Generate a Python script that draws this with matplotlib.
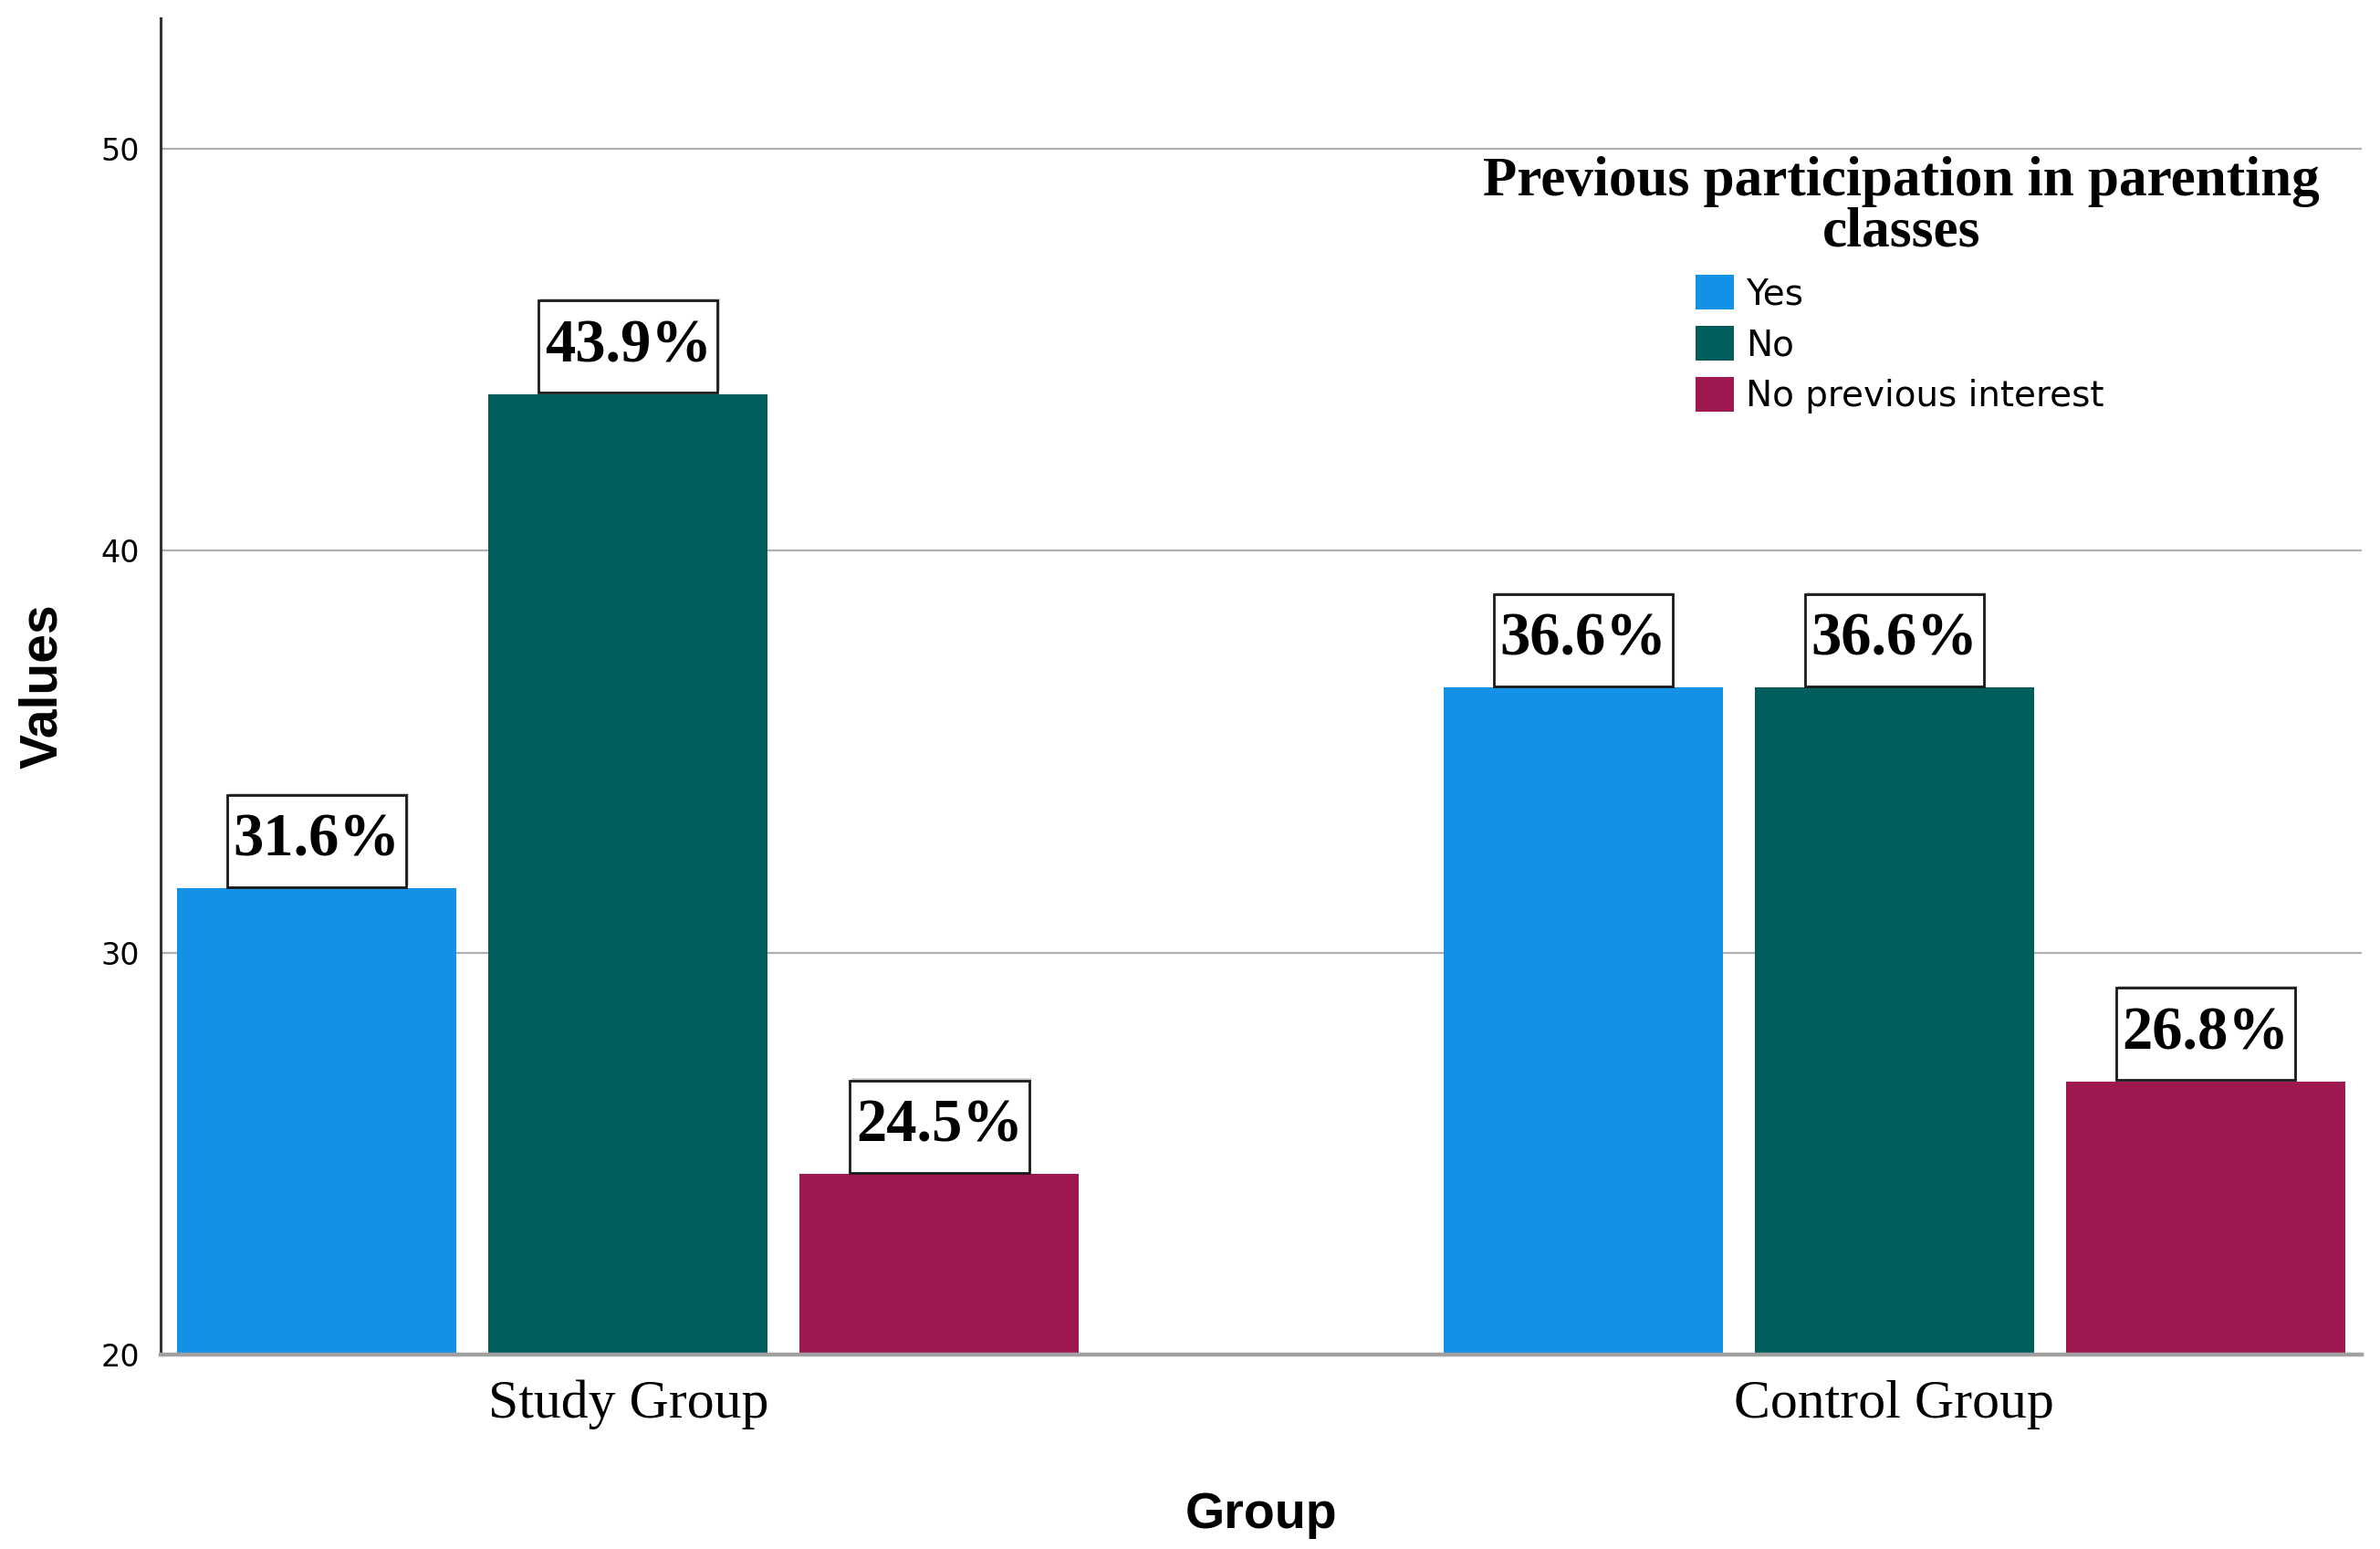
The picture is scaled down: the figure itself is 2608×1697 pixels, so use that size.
import matplotlib
matplotlib.use("Agg")
import matplotlib.pyplot as plt
import matplotlib.patheffects as pe
from matplotlib.patches import Patch
from matplotlib.path import Path
import numpy as np

groups = ["Study Group", "Control Group"]
series = ["Yes", "No", "No previous interest"]
values = {
    "Yes": [31.6, 36.6],
    "No": [43.9, 36.6],
    "No previous interest": [24.5, 26.8],
}
colors = ["#1391E6", "#025E5C", "#9E1951"]
yticks = [20, 30, 40, 50]
legend_title = "Previous participation in parenting\nclasses"

PADX, PADY = 0.10, 0.30


def label_box(x0, y0, width, height, mutation_size):
    px = PADX * mutation_size
    py = PADY * mutation_size
    x0, y0 = x0 - px, y0 - py
    x1, y1 = x0 + width + 2 * px, y0 + height + 2 * py
    return Path([(x0, y0), (x1, y0), (x1, y1), (x0, y1), (x0, y0)],
                [Path.MOVETO, Path.LINETO, Path.LINETO, Path.LINETO, Path.CLOSEPOLY])


fig = plt.figure(figsize=(26.08, 16.97), dpi=100)
ax = fig.add_axes([0.0676, 0.1255, 0.9247, 0.8627])

x = np.arange(len(groups))
step = 0.2458
width = 0.2206
fs = 48
for i, s in enumerate(series):
    pos = x + (i - 1) * step
    ax.bar(pos, [v - 20 for v in values[s]], bottom=20, width=width,
           color=colors[i], edgecolor="none", zorder=3, label=s)
    for px, v in zip(pos, values[s]):
        t = ax.annotate(f"{v:.1f}%", xy=(px, v), xytext=(0, PADY * fs + 1.0),
                        textcoords="offset points", ha="center", va="bottom",
                        fontsize=fs, fontweight="bold", family="Liberation Serif",
                        color="black", zorder=5,
                        bbox=dict(boxstyle=label_box, facecolor="white",
                                  edgecolor="#1a1a1a", linewidth=2.0))
        t.get_bbox_patch().set_path_effects(
            [pe.SimplePatchShadow(offset=(1.5, 1.5), shadow_rgbFace="#d0d0d0", alpha=1), pe.Normal()])

ax.set_xlim(-0.369, 1.369)
ax.set_ylim(20, 53.25)
ax.set_yticks(yticks)
ax.set_yticklabels([str(t) for t in yticks], family="DejaVu Sans", fontsize=24)
ax.set_xticks(x)
ax.set_xticklabels(groups, family="Liberation Serif", fontsize=43)
ax.tick_params(axis="y", length=0, pad=17)
ax.tick_params(axis="x", length=0, pad=20)

ax.yaxis.grid(True, color="#b0b0b0", linewidth=1.6, zorder=1)
ax.set_axisbelow(True)
for sp in ["top", "right"]:
    ax.spines[sp].set_visible(False)
ax.spines["left"].set_color("#333333")
ax.spines["left"].set_linewidth(2.2)
ax.spines["bottom"].set_color("#a0a0a0")
ax.spines["bottom"].set_linewidth(3.2)
ax.spines["bottom"].set_zorder(4)

ax.set_ylabel("Values", family="Liberation Sans", fontweight="bold", fontsize=41, labelpad=26)
ax.set_xlabel("Group", family="Liberation Sans", fontweight="bold", fontsize=40, labelpad=49)

fig.text(0.799, 0.8665, legend_title, ha="center", va="center", multialignment="center",
         family="Liberation Serif", fontweight="bold", fontsize=44, linespacing=0.98)

handles = [Patch(facecolor=c, edgecolor="none") for c in colors]
ax.legend(handles, series, loc="upper left", bbox_to_anchor=(0.7124, 0.8225),
          bbox_transform=fig.transFigure, frameon=False, prop={"family": "DejaVu Sans", "size": 28},
          labelspacing=0.40, handlelength=1.08, handleheight=1.13, handletextpad=0.33,
          borderpad=0, borderaxespad=0)

fig.savefig("out.png", dpi=100, facecolor="white")
